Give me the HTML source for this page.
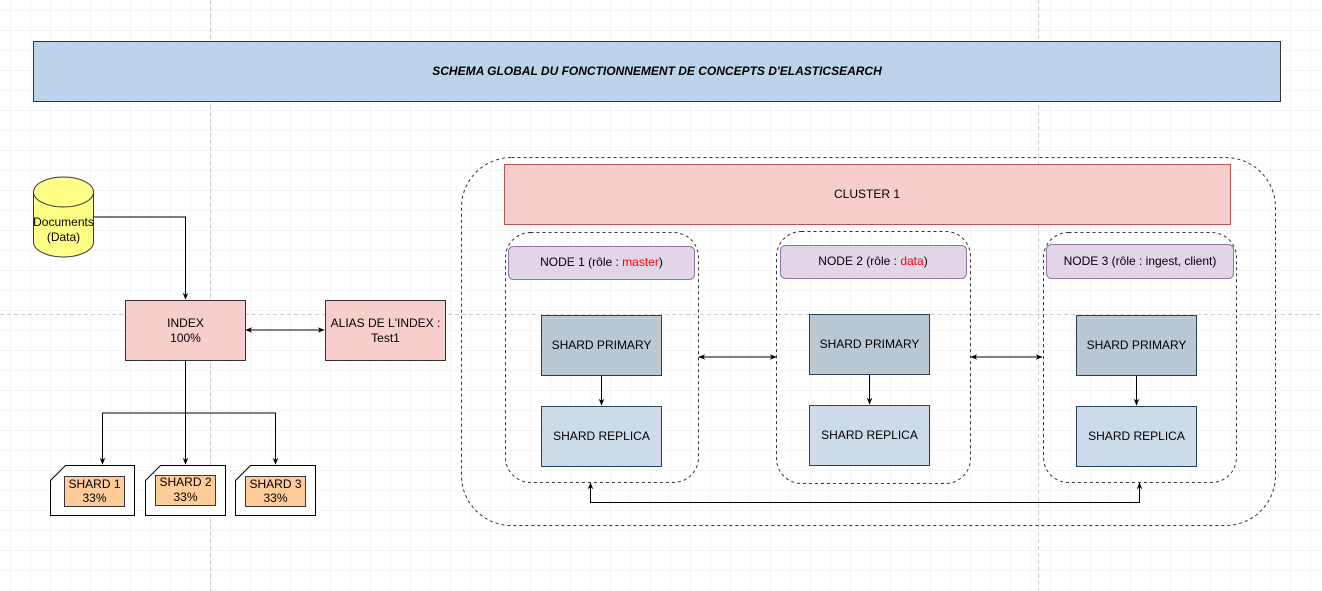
<!DOCTYPE html>
<html><head><meta charset="utf-8"><style>
html,body{margin:0;padding:0;background:#fff;}
svg{display:block;font-family:"Liberation Sans",Arial,sans-serif;}
</style></head><body>
<svg width="1322" height="591" viewBox="0 0 1322 591" xmlns="http://www.w3.org/2000/svg">
<defs>
<pattern id="g" x="10" y="10" width="20" height="20" patternUnits="userSpaceOnUse">
<path d="M0 0H20M0 0V20" stroke="#ebebeb" stroke-width="1" fill="none"/>
</pattern>
<marker id="a" viewBox="0 0 10 10" refX="9" refY="5" markerWidth="7" markerHeight="7" orient="auto-start-reverse"><path d="M0 1L10 5L0 9L3 5Z" fill="#000"/></marker>
</defs>
<rect width="1322" height="591" fill="url(#g)"/>
<path d="M210.5 0V591M1038.5 0V591M0 314.5H1322" stroke="#cfcfcf" stroke-dasharray="4 3" fill="none"/>

<rect x="33.5" y="41.5" width="1247" height="60" fill="#bcd3ea" stroke="#333"/>
<text x="657" y="75" font-size="12" font-style="italic" font-weight="bold" text-anchor="middle">SCHEMA GLOBAL DU FONCTIONNEMENT DE CONCEPTS D'ELASTICSEARCH</text>

<!-- cylinder -->
<path d="M33.5 192V242A30 15 0 0 0 93.5 242V192" fill="#ffff88" stroke="#36393d"/>
<ellipse cx="63.5" cy="192" rx="30" ry="15" fill="#ffff88" stroke="#36393d"/>
<text x="63.5" y="226" font-size="12" text-anchor="middle">Documents</text>
<text x="63.5" y="241" font-size="12" text-anchor="middle">(Data)</text>

<g stroke="#000" fill="none" stroke-width="1">
<path d="M93.5 217H185.5V299" marker-end="url(#a)"/>
<path d="M246 330H324" marker-start="url(#a)" marker-end="url(#a)"/>
<path d="M185.5 360V464"  marker-end="url(#a)"/>
<path d="M102.5 464V413H275.5V464" marker-start="url(#a)" marker-end="url(#a)"/>
<path d="M601.5 375V405" marker-end="url(#a)"/>
<path d="M869.5 374V404" marker-end="url(#a)"/>
<path d="M1136.5 375V405" marker-end="url(#a)"/>
<path d="M699 357H776" marker-start="url(#a)" marker-end="url(#a)"/>
<path d="M971 357H1042" marker-start="url(#a)" marker-end="url(#a)"/>
<path d="M590.5 483V502.5H1139.5V483" marker-start="url(#a)" marker-end="url(#a)"/>
</g>

<rect x="125.5" y="300.5" width="120" height="60" fill="#f8cecc" stroke="#333"/>
<text x="185.5" y="327" font-size="12" text-anchor="middle">INDEX</text>
<text x="185.5" y="342" font-size="12" text-anchor="middle">100%</text>
<rect x="325.5" y="300.5" width="120" height="60" fill="#f8cecc" stroke="#333"/>
<text x="385.5" y="327" font-size="12" text-anchor="middle">ALIAS DE L'INDEX :</text>
<text x="385.5" y="342" font-size="12" text-anchor="middle">Test1</text>

<!-- shards -->
<g stroke="#000" fill="#fff">
<path d="M65.5 465.5H134.5V515.5H50.5V480.5Z"/>
<path d="M160.5 465.5H225.5V515.5H145.5V480.5Z"/>
<path d="M250.5 465.5H315.5V515.5H235.5V480.5Z"/>
</g>
<g fill="#ffcc99" stroke="#36393d">
<rect x="64.5" y="476.5" width="60" height="30"/>
<rect x="155.5" y="475.5" width="60" height="30"/>
<rect x="245.5" y="476.5" width="60" height="30"/>
</g>
<g font-size="12" text-anchor="middle">
<text x="94.5" y="488">SHARD 1</text><text x="94.5" y="502">33%</text>
<text x="185.5" y="486">SHARD 2</text><text x="185.5" y="501">33%</text>
<text x="275.5" y="488">SHARD 3</text><text x="275.5" y="502">33%</text>
</g>

<!-- cluster -->
<rect x="461.5" y="157.5" width="814" height="368" rx="50" fill="none" stroke="#333" stroke-dasharray="3 3"/>
<rect x="504.5" y="164.5" width="726" height="60" fill="#f8cecc" stroke="#b85450"/>
<text x="867" y="198" font-size="12" text-anchor="middle">CLUSTER 1</text>

<g fill="none" stroke="#333" stroke-dasharray="3 3">
<rect x="505.5" y="232.5" width="193" height="250" rx="25"/>
<rect x="776.5" y="231.5" width="194" height="252" rx="25"/>
<rect x="1043.5" y="232.5" width="193" height="250" rx="25"/>
</g>
<g fill="#e1d5e7" stroke="#9673a6">
<rect x="508.5" y="246.5" width="186" height="33" rx="5"/>
<rect x="780.5" y="245.5" width="186" height="33" rx="5"/>
<rect x="1046.5" y="244.5" width="187" height="34" rx="5"/>
</g>
<g font-size="12" text-anchor="middle">
<text x="601.5" y="266">NODE 1 (rôle : <tspan fill="#ff0000">master</tspan>)</text>
<text x="873" y="265">NODE 2 (rôle : <tspan fill="#ff0000">data</tspan>)</text>
<text x="1140" y="265">NODE 3 (rôle : ingest, client)</text>
</g>
<g stroke="#23445d">
<rect x="541.5" y="315.5" width="120" height="60" fill="#bac8d3"/>
<rect x="541.5" y="406.5" width="120" height="60" fill="#cddbe8"/>
<rect x="809.5" y="314.5" width="120" height="60" fill="#bac8d3"/>
<rect x="809.5" y="405.5" width="120" height="60" fill="#cddbe8"/>
<rect x="1076.5" y="315.5" width="120" height="60" fill="#bac8d3"/>
<rect x="1076.5" y="406.5" width="120" height="60" fill="#cddbe8"/>
</g>
<g font-size="12" text-anchor="middle">
<text x="601.5" y="349">SHARD PRIMARY</text>
<text x="601.5" y="440">SHARD REPLICA</text>
<text x="869.5" y="348">SHARD PRIMARY</text>
<text x="869.5" y="439">SHARD REPLICA</text>
<text x="1136.5" y="349">SHARD PRIMARY</text>
<text x="1136.5" y="440">SHARD REPLICA</text>
</g>
</svg>
</body></html>
